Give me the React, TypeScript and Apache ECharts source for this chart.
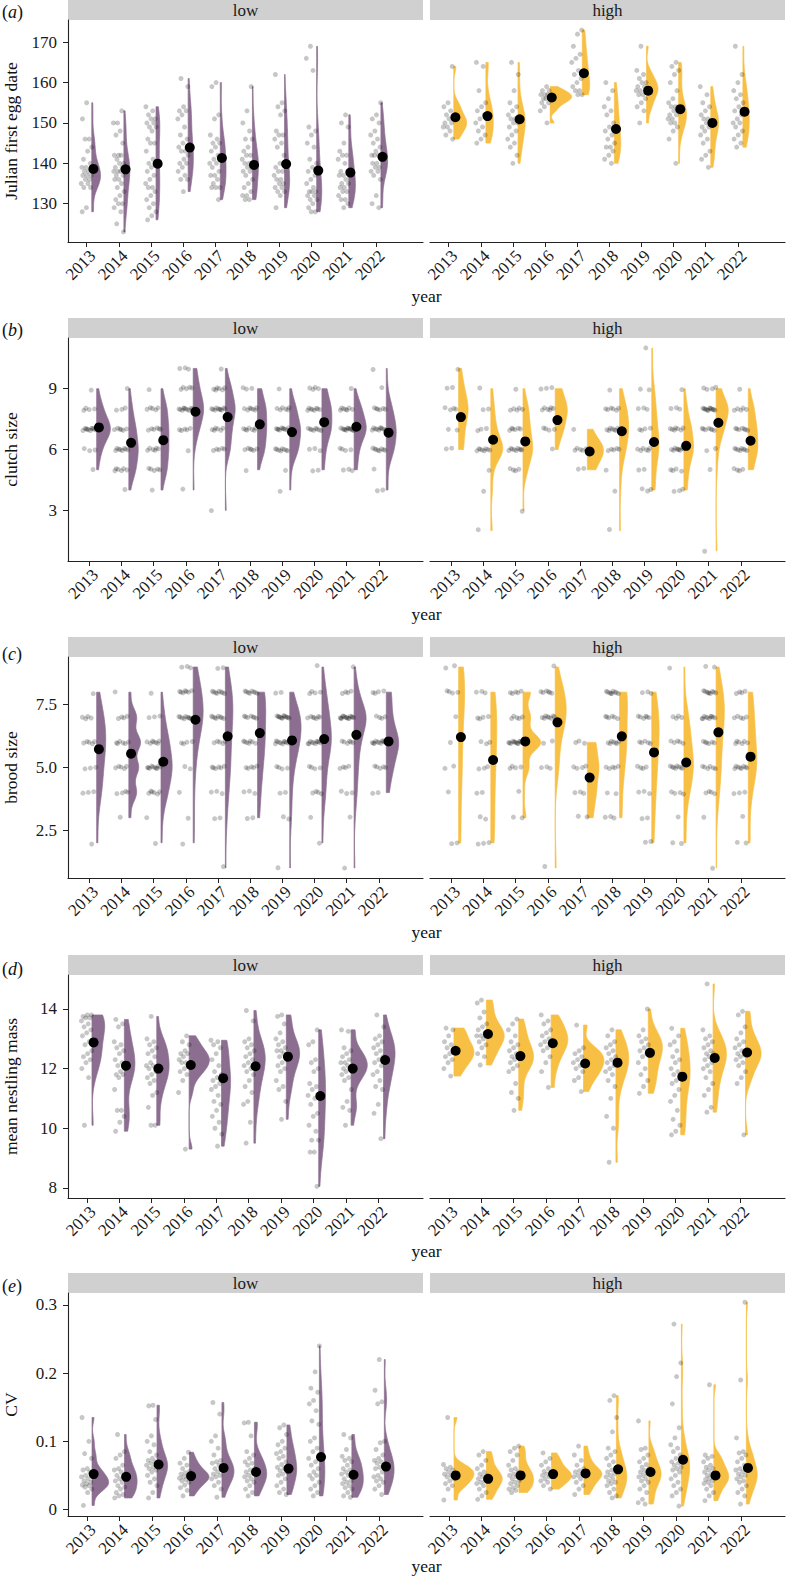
import React, { useEffect, useRef } from "react";
import * as echarts from "echarts";

// ---------------- data ----------------
const years = ["2013", "2014", "2015", "2016", "2017", "2018", "2019", "2020", "2021", "2022"];
const facets = ["low", "high"];

// (a) Julian first egg date
const feLow: number[][] = [
  [155,151,146,146,144,143,141,140,139,139,138,138,137,137,137,136,136,135,135,134,134,129,128],
  [153,150,150,148,147,145,142,142,142,141,140,140,139,139,138,138,138,137,137,136,136,135,134,133,132,131,130,130,129,128,125,123],
  [154,153,152,151,151,150,150,149,149,148,146,145,145,143,141,140,140,139,138,137,136,135,134,134,133,132,131,130,129,128,127,126],
  [161,159,154,153,153,152,151,149,147,146,145,144,143,143,142,141,140,140,139,138,137,136,136,133],
  [160,159,152,151,147,146,145,145,144,143,142,141,140,140,139,138,137,137,136,135,134,134,134,131],
  [159,153,150,148,146,146,144,143,142,142,141,140,140,139,139,138,138,137,136,135,134,133,132,132,131,131],
  [162,155,154,153,152,148,147,147,146,145,144,142,140,139,138,138,137,136,136,135,135,134,134,133,133,132,129],
  [169,166,163,149,148,147,145,144,141,140,139,138,137,136,135,134,133,133,133,132,132,131,131,130,129,128,128],
  [152,150,149,145,143,142,142,141,140,138,138,137,137,136,135,135,134,134,133,133,132,131,131,130,129],
  [155,152,151,150,148,147,146,145,144,143,142,142,142,141,140,140,139,139,138,138,137,136,132,130,129],
];
const feHigh: number[][] = [
  [164,155,154,153,152,151,151,150,150,149,149,148,147,146],
  [165,164,158,155,154,153,152,151,150,149,148,147,146,145],
  [165,162,158,155,154,153,152,151,151,150,150,149,148,147,146,145,144,142,140],
  [159,158,158,157,157,157,156,156,156,155,155,154,153,150],
  [173,172,169,167,166,165,163,162,161,160,159,158,158,157,157],
  [160,158,156,154,153,152,150,149,148,147,146,145,144,144,143,142,141,140],
  [169,163,162,161,160,160,159,159,158,158,157,157,156,155,154,153,150],
  [165,164,163,162,160,158,156,155,154,154,153,153,152,152,151,151,150,150,149,148,146,140],
  [159,157,155,154,153,152,151,151,150,150,149,149,148,147,146,145,143,142,141,139],
  [169,162,160,158,157,156,155,154,153,152,151,150,150,149,148,147,146,145,144],
];
const feLowMean = [138.6, 138.5, 139.9, 143.9, 141.3, 139.6, 139.8, 138.2, 137.7, 141.6];
const feHighMean = [151.4, 151.7, 150.9, 156.3, 162.3, 148.5, 158.0, 153.4, 150.0, 152.8];

// (b) clutch size: [value, count]
const clLow: number[][][] = [
  [[9,1],[8,4],[7,10],[6,3],[5,1]],
  [[9,1],[8,3],[7,6],[6,8],[5,6],[4,1]],
  [[9,1],[8,5],[7,6],[6,6],[5,5],[4,1]],
  [[10,3],[9,5],[8,10],[7,5],[6,1],[4,1]],
  [[10,1],[9,6],[8,10],[7,6],[6,5],[3,1]],
  [[9,3],[8,7],[7,7],[6,6],[5,1]],
  [[9,1],[8,6],[7,10],[6,8],[5,1],[4,1]],
  [[9,4],[8,8],[7,8],[6,3],[5,2]],
  [[9,1],[8,7],[7,12],[6,4],[5,3]],
  [[10,1],[9,1],[8,6],[7,10],[6,8],[5,1],[4,2]],
];
const clHigh: number[][][] = [
  [[10,1],[9,2],[8,4],[7,2],[6,2]],
  [[9,1],[8,2],[7,3],[6,8],[5,1],[4,1],[2,1]],
  [[9,1],[8,5],[7,6],[6,9],[5,4],[3,1]],
  [[9,3],[8,6],[7,4],[6,1]],
  [[7,1],[6,5],[5,2]],
  [[9,1],[8,6],[7,7],[6,5],[5,1],[4,1],[2,1]],
  [[11,1],[9,2],[8,3],[7,4],[6,6],[5,2],[4,3]],
  [[9,1],[8,3],[7,7],[6,9],[5,4],[4,3]],
  [[9,4],[8,12],[7,7],[6,2],[5,1],[1,1]],
  [[9,1],[8,5],[7,7],[6,8],[5,4]],
];
const clLowMean = [7.09, 6.33, 6.46, 7.86, 7.6, 7.24, 6.86, 7.35, 7.12, 6.83];
const clHighMean = [7.6, 6.48, 6.4, 7.45, 5.9, 6.9, 6.37, 6.18, 7.32, 6.43];

// (c) brood size: [value, count]
const brLow: number[][][] = [
  [[8,1],[7,4],[6,5],[5,3],[4,3],[2,1]],
  [[8,1],[7,4],[6,6],[5,5],[4,4],[3,1]],
  [[8,1],[7,3],[6,7],[5,10],[4,6],[3,1],[2,1]],
  [[9,3],[8,7],[7,9],[6,4],[5,2],[4,1],[3,1],[2,1]],
  [[9,2],[8,8],[7,8],[6,5],[5,6],[4,3],[3,2],[1,1]],
  [[8,8],[7,7],[6,7],[5,5],[4,3],[3,2]],
  [[8,2],[7,12],[6,10],[5,4],[4,2],[3,2],[1,1]],
  [[9,1],[8,4],[7,7],[6,10],[5,4],[4,4],[3,1],[2,1]],
  [[9,1],[8,4],[7,14],[6,6],[5,4],[4,3],[3,1],[1,1]],
  [[8,4],[7,4],[6,10],[5,5],[4,2]],
];
const brHigh: number[][][] = [
  [[9,2],[8,4],[7,1],[6,1],[5,2],[4,1],[2,2]],
  [[8,3],[7,4],[6,3],[5,3],[4,2],[3,2],[2,3]],
  [[8,5],[7,5],[6,12],[5,4],[4,1],[3,2]],
  [[9,1],[8,6],[7,8],[6,2],[5,3],[1,1]],
  [[6,3],[5,4],[4,3],[3,2]],
  [[8,9],[7,6],[6,7],[5,5],[4,2],[3,3]],
  [[8,3],[7,6],[6,5],[5,4],[4,3],[3,2],[2,2]],
  [[9,1],[7,4],[6,5],[5,8],[4,4],[3,1],[2,2]],
  [[9,2],[8,9],[7,10],[6,6],[5,6],[4,4],[3,1],[1,1]],
  [[8,4],[7,5],[6,6],[5,8],[4,3],[3,1],[2,2]],
];
const brLowMean = [5.73, 5.55, 5.23, 6.9, 6.24, 6.37, 6.08, 6.13, 6.3, 6.04];
const brHighMean = [6.21, 5.3, 6.04, 6.8, 4.6, 6.24, 5.6, 5.2, 6.4, 5.43];

// (d) mean nestling mass
const msLow: number[][] = [
  [13.8,13.8,13.75,13.7,13.7,13.6,13.5,13.4,13.3,13.2,13.1,12.9,12.8,12.6,12.5,12.4,12.3,12.2,12.0,11.7,10.1],
  [13.65,13.5,13.4,12.9,12.8,12.7,12.6,12.5,12.3,12.2,12.1,12.0,11.9,11.8,11.8,11.7,11.3,10.6,10.6,10.4,10.2,9.9],
  [13.75,13.0,12.9,12.8,12.7,12.6,12.5,12.4,12.2,12.1,12.1,12.0,11.9,11.8,11.7,11.6,11.5,11.2,11.1,10.7,10.1,10.1],
  [13.1,12.9,12.8,12.6,12.5,12.5,12.4,12.3,12.2,12.2,12.1,12.0,11.9,11.8,11.6,11.2,9.3],
  [12.95,12.9,12.8,12.7,12.5,12.3,12.1,11.9,11.8,11.7,11.6,11.5,11.4,11.3,11.1,10.9,10.8,10.6,10.4,10.2,10.0,9.8,9.4],
  [13.95,13.6,13.0,12.9,12.8,12.7,12.6,12.5,12.4,12.3,12.2,12.1,12.0,11.9,11.8,11.6,11.4,11.2,10.9,10.8,10.2,9.5],
  [13.8,13.75,13.5,13.2,13.0,12.9,12.8,12.7,12.6,12.6,12.5,12.4,12.3,12.2,12.1,12.0,11.9,11.6,11.4,11.3,10.9,10.3],
  [13.3,12.9,12.8,12.3,12.2,12.0,11.9,11.5,11.4,11.3,11.1,11.0,10.8,10.5,10.4,10.1,9.9,9.6,9.6,9.2,9.2,8.05],
  [13.3,13.25,12.7,12.6,12.5,12.4,12.3,12.2,12.2,12.1,12.0,12.0,11.9,11.8,11.7,11.6,11.3,10.9,10.7,10.6,10.1],
  [13.8,13.4,13.1,13.0,12.9,12.8,12.7,12.6,12.5,12.4,12.3,12.2,12.1,11.9,11.8,11.6,11.4,11.3,10.8,10.5,9.65],
];
const msHigh: number[][] = [
  [13.36,13.3,13.1,12.9,12.8,12.7,12.6,12.5,12.4,12.3,12.2,12.0,11.75],
  [14.3,14.2,13.9,13.7,13.5,13.4,13.3,13.2,13.1,13.1,13.0,12.9,12.8,12.7,12.5,12.4,12.12],
  [13.66,13.5,13.3,13.1,12.9,12.8,12.7,12.6,12.5,12.4,12.35,12.3,12.2,12.1,12.0,11.9,11.5,11.2,11.0,10.6],
  [13.8,13.6,13.5,13.3,13.2,13.1,13.0,12.9,12.8,12.7,12.6,12.4,12.2,11.9,11.37],
  [13.46,12.7,12.6,12.5,12.4,12.3,12.2,12.1,12.0,11.9,11.7,11.6,11.23],
  [13.3,13.1,12.9,12.8,12.7,12.6,12.5,12.4,12.3,12.2,12.1,12.0,11.9,11.8,11.6,11.4,11.0,10.4,10.0,8.86],
  [14.0,13.3,13.1,13.0,12.9,12.8,12.7,12.6,12.5,12.4,12.2,12.0,11.8,11.6,11.4,11.17],
  [13.35,13.1,12.9,12.8,12.6,12.4,12.3,12.2,12.0,11.9,11.8,11.7,11.6,11.5,11.3,11.1,10.9,10.6,10.3,10.1,9.9,9.78],
  [14.84,13.3,13.1,13.0,12.9,12.8,12.7,12.6,12.5,12.5,12.4,12.3,12.2,12.1,12.0,11.9,11.7,11.5,11.3,11.1,10.7,10.54],
  [13.92,13.8,13.4,13.2,13.0,12.9,12.8,12.7,12.6,12.5,12.45,12.4,12.3,12.2,12.1,11.9,11.7,11.5,9.78],
];
const msLowMean = [12.88, 12.1, 12.0, 12.12, 11.68, 12.08, 12.4, 11.08, 12.0, 12.29];
const msHighMean = [12.6, 13.16, 12.42, 12.85, 12.17, 12.2, 12.53, 11.73, 12.36, 12.54];

// (e) CV
const cvLow: number[][] = [
  [0.135,0.1,0.082,0.075,0.06,0.058,0.055,0.05,0.048,0.045,0.042,0.04,0.038,0.036,0.035,0.033,0.03,0.025,0.006],
  [0.11,0.085,0.08,0.075,0.065,0.06,0.058,0.055,0.05,0.048,0.045,0.042,0.04,0.035,0.033,0.03,0.025,0.022,0.02,0.017],
  [0.153,0.152,0.132,0.108,0.1,0.095,0.085,0.08,0.075,0.072,0.07,0.068,0.065,0.062,0.06,0.058,0.055,0.05,0.045,0.04,0.035,0.025,0.017],
  [0.084,0.075,0.068,0.065,0.06,0.056,0.054,0.052,0.05,0.048,0.046,0.044,0.042,0.04,0.036,0.032,0.028,0.02],
  [0.157,0.14,0.108,0.1,0.09,0.08,0.072,0.07,0.068,0.065,0.06,0.058,0.055,0.052,0.05,0.048,0.045,0.04,0.035,0.03,0.018],
  [0.128,0.127,0.108,0.085,0.08,0.075,0.07,0.068,0.065,0.06,0.058,0.055,0.053,0.05,0.048,0.045,0.042,0.04,0.035,0.03,0.025,0.02],
  [0.124,0.12,0.11,0.1,0.095,0.09,0.085,0.082,0.078,0.075,0.07,0.066,0.062,0.06,0.057,0.055,0.052,0.05,0.045,0.04,0.035,0.03,0.025,0.022],
  [0.24,0.202,0.178,0.172,0.16,0.155,0.145,0.13,0.125,0.105,0.1,0.09,0.085,0.075,0.07,0.065,0.06,0.055,0.05,0.05,0.045,0.04,0.035,0.03,0.025,0.02],
  [0.11,0.105,0.088,0.078,0.075,0.072,0.07,0.065,0.06,0.058,0.055,0.052,0.05,0.045,0.042,0.04,0.038,0.035,0.032,0.03,0.025,0.02,0.018],
  [0.22,0.175,0.158,0.155,0.1,0.098,0.088,0.08,0.075,0.072,0.07,0.068,0.065,0.062,0.06,0.055,0.05,0.048,0.045,0.042,0.04,0.035,0.03,0.022],
];
const cvHigh: number[][] = [
  [0.135,0.066,0.062,0.06,0.058,0.055,0.052,0.05,0.048,0.045,0.042,0.038,0.035,0.03,0.014],
  [0.085,0.08,0.072,0.065,0.06,0.055,0.052,0.05,0.048,0.045,0.042,0.04,0.038,0.035,0.03,0.025,0.02,0.015],
  [0.093,0.09,0.085,0.08,0.072,0.065,0.06,0.058,0.055,0.052,0.05,0.048,0.045,0.042,0.04,0.038,0.035,0.032,0.03,0.028,0.025],
  [0.083,0.075,0.07,0.065,0.06,0.056,0.054,0.052,0.05,0.048,0.045,0.042,0.04,0.035,0.03],
  [0.093,0.08,0.072,0.065,0.06,0.057,0.055,0.052,0.05,0.048,0.045,0.04,0.035,0.03,0.022],
  [0.167,0.16,0.135,0.114,0.09,0.085,0.08,0.075,0.07,0.065,0.06,0.058,0.055,0.052,0.05,0.048,0.045,0.042,0.04,0.038,0.035,0.03,0.025,0.02,0.017],
  [0.13,0.09,0.088,0.08,0.075,0.07,0.066,0.062,0.06,0.057,0.055,0.052,0.05,0.048,0.045,0.042,0.04,0.035,0.03,0.025,0.015,0.01,0.008],
  [0.272,0.215,0.195,0.155,0.12,0.105,0.095,0.09,0.085,0.08,0.075,0.07,0.068,0.065,0.062,0.06,0.058,0.055,0.05,0.045,0.04,0.035,0.03,0.025,0.02,0.005],
  [0.183,0.08,0.078,0.075,0.07,0.065,0.062,0.06,0.058,0.055,0.052,0.05,0.048,0.046,0.044,0.042,0.04,0.038,0.035,0.03,0.025,0.02,0.013],
  [0.304,0.19,0.105,0.085,0.083,0.08,0.075,0.07,0.065,0.06,0.058,0.055,0.052,0.05,0.048,0.045,0.042,0.04,0.035,0.03,0.025,0.02,0.008],
];
const cvLowMean = [0.052, 0.048, 0.066, 0.049, 0.061, 0.055, 0.06, 0.077, 0.051, 0.063];
const cvHighMean = [0.05, 0.045, 0.05, 0.052, 0.053, 0.059, 0.055, 0.073, 0.05, 0.061];

const yTicksA = [130, 140, 150, 160, 170];
const yTicksB = [3, 6, 9];
const yTicksC = [2.5, 5, 7.5];
const yTicksD = [8, 10, 12, 14];
const yTicksE = [0, 0.1, 0.2, 0.3];

// ---------------- helpers ----------------
const expand = (c: number[][]) => c.flatMap(([v, n]) => Array(n).fill(v));
const sd = (v: number[]) => {
  const m = v.reduce((a, b) => a + b, 0) / v.length;
  return Math.sqrt(v.reduce((a, b) => a + (b - m) * (b - m), 0) / (v.length - 1));
};
const quant = (s: number[], p: number) => {
  const h = (s.length - 1) * p;
  const lo = Math.floor(h);
  const hi = Math.min(lo + 1, s.length - 1);
  return s[lo] + (h - lo) * (s[hi] - s[lo]);
};
const nrd0 = (v: number[]) => {
  const s = [...v].sort((a, b) => a - b);
  const iqr = quant(s, 0.75) - quant(s, 0.25);
  let lo = Math.min(sd(v), iqr / 1.34);
  if (!(lo > 0)) lo = sd(v) || 1;
  return 0.9 * lo * Math.pow(v.length, -0.2);
};
const gauss = (u: number) => Math.exp(-0.5 * u * u) / Math.sqrt(2 * Math.PI);
// gaussian kernel density, trimmed to the data range
const kde = (v: number[], bw: number, steps = 120) => {
  const lo = Math.min(...v);
  const hi = Math.max(...v);
  const out: number[][] = [];
  for (let k = 0; k <= steps; k++) {
    const y = lo + ((hi - lo) * k) / steps;
    let s = 0;
    for (const x of v) s += gauss((y - x) / bw);
    out.push([y, s / (v.length * bw)]);
  }
  return out;
};
const frac = (x: number) => x - Math.floor(x);

// ---------------- layout ----------------
const FONT = "Liberation Serif";
const PURPLE = "#8C6E91";
const YELLOW = "#F8BF45";
const PANEL_LEFT = [68, 430];
const PANEL_W = 355;
const ROW_LAYOUT = [
  { stripTop: 0, axisY: 242, tagY: 12, titleY: 296, xMin: -0.58, xMax: 10.47, base: 0.16, dot: 0.21, jw: 0.17, jh: 0, maxW: 0.67, bwMin: 0 },
  { stripTop: 318, axisY: 561, tagY: 330, titleY: 614, xMin: -0.66, xMax: 10.37, base: 0.23, dot: 0.3, jw: 0.22, jh: 0.07, maxW: 0.5, bwMin: 0.55 },
  { stripTop: 637, axisY: 878, tagY: 654, titleY: 932, xMin: -0.66, xMax: 10.37, base: 0.23, dot: 0.3, jw: 0.22, jh: 0.06, maxW: 0.55, bwMin: 0.33 },
  { stripTop: 955, axisY: 1198, tagY: 969, titleY: 1251, xMin: -0.58, xMax: 10.38, base: 0.16, dot: 0.21, jw: 0.17, jh: 0, maxW: 0.63, bwMin: 0 },
  { stripTop: 1273, axisY: 1516, tagY: 1286, titleY: 1566, xMin: -0.58, xMax: 10.35, base: 0.16, dot: 0.21, jw: 0.17, jh: 0, maxW: 0.62, bwMin: 0 },
];

const ROWS = [
  { tag: "a", title: "Julian first egg date", groups: [feLow, feHigh], means: [feLowMean, feHighMean], ticks: yTicksA, yMin: 120.5, yMax: 175.5, fmt: (v: number) => String(v) },
  { tag: "b", title: "clutch size", groups: [clLow.map(expand), clHigh.map(expand)], means: [clLowMean, clHighMean], ticks: yTicksB, yMin: 0.5, yMax: 11.5, fmt: (v: number) => String(v) },
  { tag: "c", title: "brood size", groups: [brLow.map(expand), brHigh.map(expand)], means: [brLowMean, brHighMean], ticks: yTicksC, yMin: 0.6, yMax: 9.4, fmt: (v: number) => v.toFixed(1) },
  { tag: "d", title: "mean nestling mass", groups: [msLow, msHigh], means: [msLowMean, msHighMean], ticks: yTicksD, yMin: 7.66, yMax: 15.14, fmt: (v: number) => String(v) },
  { tag: "e", title: "CV", groups: [cvLow, cvHigh], means: [cvLowMean, cvHighMean], ticks: yTicksE, yMin: -0.0095, yMax: 0.3176, fmt: (v: number) => (v === 0 ? "0" : v.toFixed(1)) },
];

function buildOption() {
  const grids: any[] = [];
  const xAxes: any[] = [];
  const yAxes: any[] = [];
  const series: any[] = [];
  const graphics: any[] = [];
  const axisColor = "#222";
  const tickIdx = years.map((_, i) => i);

  ROWS.forEach((row, r) => {
    const L = ROW_LAYOUT[r];
    const panelTop = L.stripTop + 20;
    // densities for the whole row (normalised together)
    const profiles = row.groups.map((cols) => cols.map((v) => kde(v, Math.max(nrd0(v), L.bwMin))));
    let maxD = 0;
    profiles.forEach((c) => c.forEach((p) => p.forEach(([, d]) => (maxD = Math.max(maxD, d)))));

    for (let c = 0; c < 2; c++) {
      const gi = r * 2 + c;
      grids.push({ left: PANEL_LEFT[c], top: panelTop, width: PANEL_W, height: L.axisY - panelTop });
      xAxes.push({
        gridIndex: gi,
        type: "value",
        min: L.xMin,
        max: L.xMax,
        axisLine: { show: true, onZero: false, lineStyle: { color: axisColor, width: 1.1 } },
        axisTick: { show: true, customValues: tickIdx, length: 5, lineStyle: { color: axisColor, width: 1 } },
        axisLabel: {
          customValues: tickIdx,
          formatter: (v: number) => years[Math.round(v)] ?? "",
          rotate: 45,
          margin: 5,
          align: "right",
          verticalAlign: "top",
          fontSize: 17,
          fontFamily: FONT,
          color: "#1a1a1a",
        },
        splitLine: { show: false },
      });
      const left = c === 0;
      yAxes.push({
        gridIndex: gi,
        type: "value",
        min: row.yMin,
        max: row.yMax,
        axisLine: { show: left, onZero: false, lineStyle: { color: axisColor, width: 1.1 } },
        axisTick: { show: left, customValues: row.ticks, length: 5, lineStyle: { color: axisColor, width: 1 } },
        axisLabel: {
          show: left,
          customValues: row.ticks,
          formatter: (v: number) => row.fmt(v),
          margin: 11,
          fontSize: 17,
          fontFamily: FONT,
          color: "#1a1a1a",
        },
        splitLine: { show: false },
      });

      const color = c === 0 ? PURPLE : YELLOW;
      const prof = profiles[c];
      const groups = row.groups[c];
      series.push({
        type: "custom",
        xAxisIndex: gi,
        yAxisIndex: gi,
        silent: true,
        z: 1,
        data: groups.map((v, i) => [i, Math.min(...v), Math.max(...v)]),
        encode: { x: 0, y: [1, 2] },
        renderItem: (params: any, api: any) => {
          const i = params.dataIndex;
          const p = prof[i];
          const pts: number[][] = [];
          pts.push(api.coord([i + L.base, p[0][0]]));
          for (const [y, d] of p) pts.push(api.coord([i + L.base + (d / maxD) * L.maxW, y]));
          pts.push(api.coord([i + L.base, p[p.length - 1][0]]));
          return {
            type: "polygon",
            shape: { points: pts },
            style: { fill: color, stroke: color, lineWidth: 0.7 },
          };
        },
      });
      const pts: number[][] = [];
      groups.forEach((v, i) => {
        v.forEach((y, k) => {
          const u = frac(0.5 + k * 0.6180339887 + i * 0.2718 + r * 0.1414 + c * 0.33);
          const w = frac(k * 0.7548776662 + i * 0.5698 + c * 0.17);
          pts.push([i + (u - 0.5) * 2 * L.jw, y + (w - 0.5) * 2 * L.jh]);
        });
      });
      series.push({
        type: "scatter",
        xAxisIndex: gi,
        yAxisIndex: gi,
        silent: true,
        z: 2,
        symbolSize: 5,
        itemStyle: { color: "rgba(0,0,0,0.22)", opacity: 1 },
        data: pts,
      });
      series.push({
        type: "scatter",
        xAxisIndex: gi,
        yAxisIndex: gi,
        silent: true,
        z: 3,
        symbolSize: 10,
        itemStyle: { color: "#000000", opacity: 1 },
        data: row.means[c].map((m, i) => [i + L.dot, m]),
      });

      // strip
      graphics.push({
        type: "rect",
        shape: { x: PANEL_LEFT[c], y: L.stripTop, width: PANEL_W, height: 20 },
        style: { fill: "#D0D0D0" },
        silent: true,
      });
      graphics.push({
        type: "text",
        x: PANEL_LEFT[c] + PANEL_W / 2,
        y: L.stripTop + 10.5,
        style: { text: facets[c], fontSize: 17, fontFamily: FONT, fill: "#1a1a1a", align: "center", verticalAlign: "middle" },
        silent: true,
      });
    }

    // y title
    graphics.push({
      type: "text",
      x: 11,
      y: (panelTop + L.axisY) / 2,
      rotation: Math.PI / 2,
      style: { text: row.title, fontSize: 17.5, fontFamily: FONT, fill: "#111", align: "center", verticalAlign: "middle" },
      silent: true,
    });
    // x title
    graphics.push({
      type: "text",
      x: (PANEL_LEFT[0] + PANEL_LEFT[1] + PANEL_W) / 2,
      y: L.titleY,
      style: { text: "year", fontSize: 17.5, fontFamily: FONT, fill: "#111", align: "center", verticalAlign: "middle" },
      silent: true,
    });
    // panel tag
    graphics.push({
      type: "text",
      x: 2,
      y: L.tagY,
      style: {
        text: "{p|(}{i|" + row.tag + "}{p|)}",
        verticalAlign: "middle",
        align: "left",
        rich: {
          p: { fontSize: 18, fontFamily: FONT, fill: "#111" },
          i: { fontSize: 18, fontFamily: FONT, fontStyle: "italic", fill: "#111" },
        },
      },
      silent: true,
    });
  });

  return {
    animation: false,
    backgroundColor: "#ffffff",
    grid: grids,
    xAxis: xAxes,
    yAxis: yAxes,
    series,
    graphic: { elements: graphics },
  };
}

export default function App() {
  const ref = useRef<HTMLDivElement>(null);
  useEffect(() => {
    document.body.style.margin = "0";
    if (!ref.current) return;
    const chart = echarts.init(ref.current, undefined, { renderer: "svg" });
    chart.setOption(buildOption() as any);
    return () => chart.dispose();
  }, []);
  return <div ref={ref} style={{ width: 786, height: 1578 }} />;
}
